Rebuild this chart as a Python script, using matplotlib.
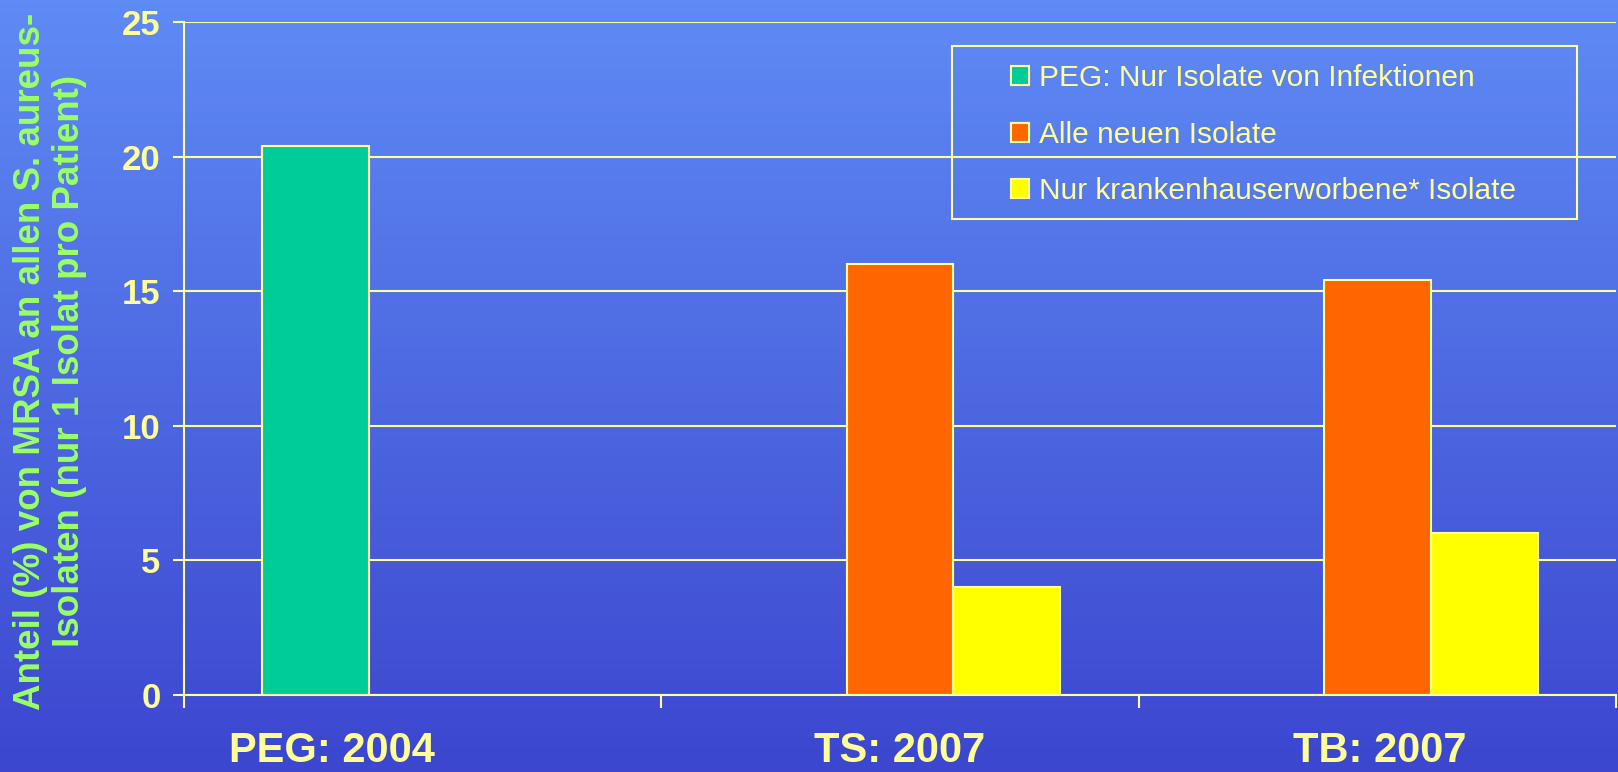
import numpy as np
import matplotlib
matplotlib.use("Agg")
import matplotlib.pyplot as plt
from matplotlib.patches import Rectangle
from matplotlib.colors import LinearSegmentedColormap

plt.rcParams["font.family"] = ["Liberation Sans", "DejaVu Sans"]

# data
categories = ["PEG: 2004", "TS: 2007", "TB: 2007"]
series_names = [
    "PEG: Nur Isolate von Infektionen",
    "Alle neuen Isolate",
    "Nur krankenhauserworbene* Isolate",
]
peg_infections = [20.4, np.nan, np.nan]
all_new = [np.nan, 16.0, 15.4]
hospital_acquired = [np.nan, 4.0, 6.0]
yticks = [0, 5, 10, 15, 20, 25]

series_values = [peg_infections, all_new, hospital_acquired]
series_colors = ["#00cc99", "#ff6600", "#ffff00"]
label_color = "#ffff99"
ylabel_color = "#99ff66"

fig = plt.figure(figsize=(16.18, 7.72), dpi=100)

# gradient background over the whole figure
bg = fig.add_axes([0, 0, 1, 1], zorder=-10)
cmap = LinearSegmentedColormap.from_list("bg", ["#3c46cf", "#5f8bf5"])
bg.imshow(np.linspace(0, 1, 256).reshape(-1, 1), aspect="auto", cmap=cmap,
          origin="lower", extent=[0, 1, 0, 1])
bg.axis("off")

ax = fig.add_axes([184 / 1618, 1 - 695 / 772, 1432 / 1618, 673 / 772])
ax.set_facecolor("none")

x = np.arange(len(categories))
width = 0.224
offsets = [-width, 0, width]
for vals, off, col, name in zip(series_values, offsets, series_colors, series_names):
    ax.bar(x + off, vals, width, color=col, edgecolor=label_color,
           linewidth=1.5, label=name, zorder=3)

ax.set_xlim(-0.5, len(categories) - 0.5)
ax.set_ylim(0, 25)
ax.set_yticks(yticks)
ax.set_yticklabels([str(v) for v in yticks], fontsize=25, fontweight="bold",
                   color=label_color)
ax.set_xticks(np.arange(len(categories) + 1) - 0.5)
ax.set_xticklabels([])
ax.tick_params(axis="y", length=8, width=1.5, color=label_color, pad=9)
ax.tick_params(axis="x", length=9, width=1.5, color=label_color)
ax.grid(axis="y", color=label_color, linewidth=1.5, zorder=0)
for side in ["top", "right"]:
    ax.spines[side].set_visible(False)
for side in ["left", "bottom"]:
    ax.spines[side].set_color(label_color)
    ax.spines[side].set_linewidth(1.5)
    ax.spines[side].set_zorder(4)

# category labels sit low, right at the bottom edge
label_shift = [-0.19, 0.0, 0.005]
for xi, sh, name in zip(x, label_shift, categories):
    ax.text(xi + sh, (695 - 771) / 673, name, transform=ax.get_xaxis_transform(),
            ha="center", va="bottom", fontsize=30, fontweight="bold",
            color=label_color)

fig.text(50 / 1618, 1 - 361 / 772,
         "Anteil (%) von MRSA an allen S. aureus-\nIsolaten (nur 1 Isolat pro Patient)",
         rotation=90, ha="center", va="center", fontsize=26.5, fontweight="bold",
         color=ylabel_color, linespacing=1.18)

# legend with a plain frame drawn separately
fig.patches.append(Rectangle((952 / 1618, 1 - 219 / 772), 625 / 1618, 173 / 772,
                             transform=fig.transFigure, fill=False,
                             edgecolor=label_color, linewidth=1.5))
leg = ax.legend(loc="upper left", bbox_to_anchor=(1011 / 1618, 1 - 64 / 772),
                bbox_transform=fig.transFigure, frameon=False, fontsize=21.5,
                handlelength=0.6, handleheight=0.6, handletextpad=0.35,
                labelspacing=0.96, borderpad=0, borderaxespad=0)
for t in leg.get_texts():
    t.set_color(label_color)

fig.savefig("out.png", dpi=100)
